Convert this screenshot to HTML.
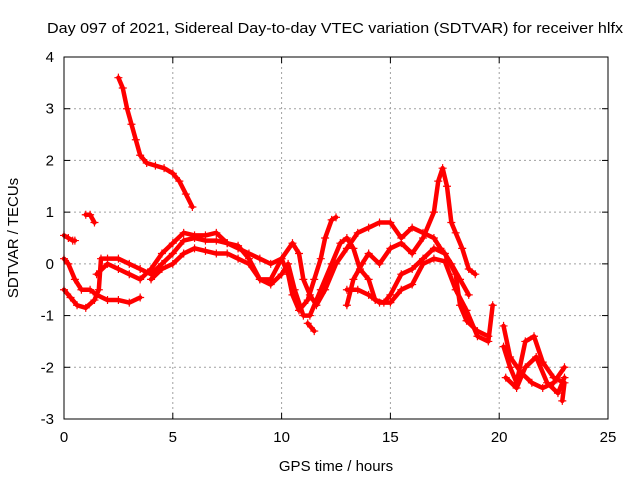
<!DOCTYPE html>
<html><head><meta charset="utf-8"><style>
body{margin:0;background:#fff}
svg{font-family:"Liberation Sans",sans-serif;font-size:14px}
</style></head><body>
<svg id="chart" width="640" height="480">
<text x="335" y="33" text-anchor="middle" textLength="576" lengthAdjust="spacingAndGlyphs" style="font-size:15px">Day 097 of 2021, Sidereal Day-to-day VTEC variation (SDTVAR) for receiver hlfx</text>
<text x="336" y="471" text-anchor="middle" style="font-size:15px">GPS time / hours</text>
<text x="18" y="238" text-anchor="middle" style="font-size:15px" transform="rotate(-90 18 238)">SDTVAR / TECUs</text>
<g id="grid"></g>
<g id="ticks"></g>
<g id="marks"></g>
<rect x="64" y="57" width="544" height="362" fill="none" stroke="#000"/>
</svg>
<script>
const xTicks=[0,5,10,15,20,25];
const yTicks=[-3,-2,-1,0,1,2,3,4];
const traceA=[[2.5,3.6],[2.7,3.4],[2.9,3.0],[3.1,2.7],[3.3,2.4],[3.5,2.1],[3.8,1.95],[4.2,1.9],[4.6,1.85],[5.0,1.75],[5.3,1.6],[5.6,1.35],[5.9,1.1]];
const traceB=[[1.0,0.95],[1.2,0.95],[1.4,0.8]];
const traceC=[[0,0.55],[0.2,0.5],[0.4,0.45],[0.5,0.45]];
const traceD=[[0,0.1],[0.2,0],[0.5,-0.3],[0.8,-0.5],[1.2,-0.5],[1.5,-0.6],[2,-0.7],[2.5,-0.7],[3,-0.75],[3.5,-0.65]];
const traceE=[[0,-0.5],[0.3,-0.65],[0.6,-0.8],[1.0,-0.85],[1.4,-0.7],[1.6,-0.5],[1.7,0.1],[2,0.1],[2.5,0.1],[3,0],[3.5,-0.1],[4,-0.2],[4.5,0],[5,0.2],[5.5,0.45],[6,0.5],[6.5,0.45],[7,0.45],[7.5,0.4],[8,0.3],[8.5,0.2],[9,0.1],[9.5,0.0],[10,0.1],[10.3,-0.2],[10.5,-0.6],[10.8,-0.9],[11.2,-0.7],[11.5,-0.3],[11.8,0.1],[12,0.5],[12.3,0.85],[12.5,0.9]];
const traceF=[[1.5,-0.2],[2,0],[2.5,-0.1],[3,-0.2],[3.5,-0.3],[4,-0.1],[4.5,0.2],[5,0.4],[5.5,0.6],[6,0.55],[6.5,0.55],[7,0.6],[7.5,0.4],[8,0.35],[8.5,0.1],[9,-0.3],[9.5,-0.3],[10,0.1],[10.5,0.4],[10.8,0.2],[11,-0.3],[11.3,-0.6],[11.6,-0.8],[12,-0.5],[12.5,0],[13,0.3],[13.5,0.6],[14,0.7],[14.5,0.8],[15,0.8],[15.5,0.5],[16,0.7],[16.5,0.6],[17,0.5],[17.3,0.3],[17.5,0.2],[18,-0.2],[18.2,-0.8],[18.5,-1.1],[19,-1.3],[19.5,-1.4]];
const traceG=[[4,-0.3],[4.5,-0.1],[5,0],[5.5,0.2],[6,0.3],[6.5,0.25],[7,0.2],[7.5,0.2],[8,0.1],[8.5,0],[9,-0.3],[9.5,-0.4],[10,-0.2],[10.3,0],[10.6,-0.5],[11,-1.0],[11.3,-1.0],[11.8,-0.5],[12.3,0],[12.7,0.4],[13,0.5],[13.3,0.3],[13.6,-0.1],[14,-0.3],[14.3,-0.7],[14.7,-0.75],[15,-0.6],[15.5,-0.2],[16,-0.1],[16.5,0.1],[17,0.3],[17.5,0.2],[17.8,0],[18.2,-0.3],[18.6,-0.6]];
const traceH=[[13,-0.8],[13.3,-0.3],[13.7,0],[14,0.2],[14.5,0],[15,0.3],[15.5,0.4],[16,0.2],[16.5,0.5],[17,1.0],[17.2,1.6],[17.4,1.85],[17.6,1.5],[17.8,0.8],[18,0.6],[18.3,0.3],[18.6,-0.1],[18.9,-0.2]];
const traceI=[[11.2,-1.15],[11.5,-1.3]];
const traceJ=[[13,-0.5],[13.5,-0.5],[14,-0.6],[14.5,-0.75],[15,-0.75],[15.5,-0.5],[16,-0.4],[16.5,0],[17,0.1],[17.5,0.05],[18,-0.5],[18.5,-0.9],[19,-1.4],[19.5,-1.5],[19.7,-0.8]];
const traceK=[[20.2,-1.2],[20.5,-1.8],[21,-2.1],[21.5,-2.3],[22,-2.4],[22.5,-2.3],[23,-2.0]];
const traceL=[[20.2,-1.6],[20.5,-2.0],[20.8,-2.3],[21.2,-1.5],[21.6,-1.4],[22,-1.9],[22.5,-2.2],[23,-2.3],[22.9,-2.65]];
const traceM=[[20.3,-2.2],[20.8,-2.4],[21.2,-2.0],[21.7,-1.8],[22.2,-2.3],[22.7,-2.5],[23,-2.2]];
const traces=[traceA,traceB,traceC,traceD,traceE,traceF,traceG,traceH,traceI,traceJ,traceK,traceL,traceM];
const NS="http://www.w3.org/2000/svg";
const X=v=>64+(v-0)/25*544;
const Y=v=>419-(v+3)/7*362;
const grid=document.getElementById('grid'),ticks=document.getElementById('ticks'),marks=document.getElementById('marks');
function mk(t,a,p){const e=document.createElementNS(NS,t);for(const k in a)e.setAttribute(k,a[k]);p.appendChild(e);return e;}
xTicks.forEach(t=>{const x=X(t);
 if(t>0&&t<25){const l=mk('line',{x1:x,x2:x,y1:57,y2:419,stroke:'#a0a0a0','stroke-dasharray':'2,3'},grid);
 
 }
 mk('line',{x1:x,x2:x,y1:419,y2:413,stroke:'#000'},ticks);mk('line',{x1:x,x2:x,y1:57,y2:63,stroke:'#000'},ticks);
 const tx=mk('text',{x:x,y:442,'text-anchor':'middle',style:'font-size:15px'},ticks);tx.textContent=t;
 
 });
yTicks.forEach(t=>{const y=Y(t);
 if(t>-3&&t<4){const l=mk('line',{x1:64,x2:608,y1:y,y2:y,stroke:'#a0a0a0','stroke-dasharray':'2,3'},grid);
 
 }
 mk('line',{x1:64,x2:70,y1:y,y2:y,stroke:'#000'},ticks);mk('line',{x1:608,x2:602,y1:y,y2:y,stroke:'#000'},ticks);
 const tx=mk('text',{x:54,y:y+5,'text-anchor':'end',style:'font-size:15px'},ticks);tx.textContent=t;
 
 });
traces.forEach((tr,i)=>{
 const pl=mk('polyline',{points:tr.map(p=>X(p[0])+','+Y(p[1])).join(' '),fill:'none',stroke:'#f00','stroke-width':4.5,'stroke-linejoin':'round','stroke-linecap':'round'},marks);
 
 
 tr.forEach(p=>{const x=X(p[0]),y=Y(p[1]);
  const m=mk('path',{d:`M${x-4},${y}H${x+4}M${x},${y-4}V${y+4}`,stroke:'#f00','stroke-width':1.2},marks);
  
  });
});
</script>
</body></html>
